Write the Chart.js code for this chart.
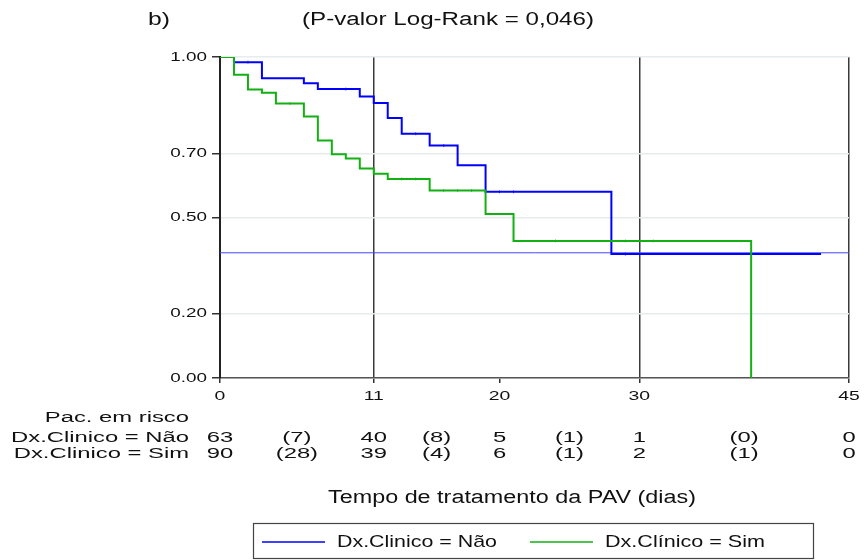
<!DOCTYPE html>
<html>
<head>
<meta charset="utf-8">
<script src="https://cdn.jsdelivr.net/npm/chart.js@4/dist/chart.umd.min.js"></script>
<style>
  html, body { margin: 0; padding: 0; background: #fff; }
  canvas { display: block; }
</style>
</head>
<body>
<canvas id="km" width="866" height="560"></canvas>
<script>
// Kaplan-Meier curves: tempo de tratamento da PAV, split by Dx.Clinico.

// ─── Data ────────────────────────────────────────────────────────────────────
const naoTimes = [0, 1, 3, 6, 7, 10, 11, 12, 13, 15, 17, 19, 28, 43];
const naoSurv  = [1, 0.984, 0.934, 0.918, 0.900, 0.877, 0.857, 0.810, 0.761, 0.724, 0.663, 0.580, 0.386, 0.386];
const simTimes = [0, 1, 2, 3, 4, 6, 7, 8, 9, 10, 11, 12, 15, 19, 21, 38];
const simSurv  = [1, 0.945, 0.899, 0.889, 0.855, 0.815, 0.740, 0.697, 0.684, 0.653, 0.636, 0.620, 0.584, 0.511, 0.427, 0];

const naoCensored = [2, 9, 14, 16, 20, 21, 29];
const simCensored = [5, 13, 14, 16, 17, 18, 24, 29, 31];

const refLevel   = 0.39;
const vlineDays  = [11, 30, 45];
const xTicks     = [0, 11, 20, 30, 45];
const yTicks     = [0, 0.2, 0.5, 0.7, 1.0];

const riskTimes  = [0, 5.5, 11, 15.5, 20, 25, 30, 37.5, 45];
const riskNao    = ["63", "(7)", "40", "(8)", "5", "(1)", "1", "(0)", "0"];
const riskSim    = ["90", "(28)", "39", "(4)", "6", "(1)", "2", "(1)", "0"];

const labelNao   = "Dx.Clinico = Não";
const labelSim   = "Dx.Clinico = Sim";
const legendNao  = "Dx.Clinico = Não";
const legendSim  = "Dx.Clínico = Sim";

const BLUE  = "#0000ff";
const GREEN = "#12b012";
const FONT  = '"Liberation Sans", Arial, sans-serif';

// ─── Helpers ─────────────────────────────────────────────────────────────────

const toPts = (xs, ys) => xs.map((x, i) => ({ x, y: ys[i] }));

function survivalAt(times, surv, t) {
  let s = surv[0];
  for (let i = 0; i < times.length; i++) if (times[i] <= t) s = surv[i];
  return s;
}

function censorPts(cens, times, surv) {
  return cens.map((t) => ({ x: t, y: survivalAt(times, surv, t) }));
}

// draw text stretched horizontally (sx), or fitted to a given width
function text(ctx, str, x, y, align, size, sx, fitWidth) {
  ctx.save();
  ctx.font = size + "px " + FONT;
  ctx.fillStyle = "#111";
  ctx.textBaseline = "middle";
  ctx.textAlign = align;
  if (fitWidth) sx = fitWidth / ctx.measureText(str).width;
  ctx.translate(x, y);
  ctx.scale(sx, 1);
  ctx.fillText(str, 0, 0);
  ctx.restore();
}

// ─── Extra drawing: tick labels, risk table, titles, legend ─────────────────

const decorPlugin = {
  id: "kmDecor",
  afterDraw(chart) {
    const ctx = chart.ctx;
    const xs = chart.scales.x;
    const ys = chart.scales.y;

    yTicks.forEach((v) => text(ctx, v.toFixed(2), 207, ys.getPixelForValue(v), "right", 13, 1.45));
    xTicks.forEach((v) => text(ctx, String(v), xs.getPixelForValue(v), 397, "center", 12.5, 1.55));

    // patients at risk
    text(ctx, "Pac. em risco", 189, 418, "right", 14, 1.7);
    text(ctx, labelNao, 189, 438, "right", 14, 1.7);
    text(ctx, labelSim, 189, 454, "right", 14, 1.7);
    riskTimes.forEach((t, i) => {
      const px = xs.getPixelForValue(t);
      text(ctx, riskNao[i], px, 438, "center", 14, 1.7);
      text(ctx, riskSim[i], px, 454, "center", 14, 1.7);
    });

    // titles
    text(ctx, "b)", 148, 20, "left", 18, 1, 22);
    text(ctx, "(P-valor Log-Rank = 0,046)", 302, 20, "left", 18, 1, 292);
    text(ctx, "Tempo de tratamento da PAV (dias)", 328, 498, "left", 18, 1, 368);

    // legend box
    ctx.save();
    ctx.strokeStyle = "#444";
    ctx.lineWidth = 1.2;
    ctx.strokeRect(253.5, 523.5, 560, 35);
    ctx.lineWidth = 1.5;
    ctx.strokeStyle = BLUE;
    ctx.beginPath(); ctx.moveTo(262, 542); ctx.lineTo(325, 542); ctx.stroke();
    ctx.strokeStyle = GREEN;
    ctx.beginPath(); ctx.moveTo(530, 542); ctx.lineTo(593, 542); ctx.stroke();
    ctx.restore();
    text(ctx, legendNao, 337, 542, "left", 17, 1, 160);
    text(ctx, legendSim, 605, 542, "left", 17, 1, 160);
  },
};

// ─── Chart ───────────────────────────────────────────────────────────────────

new Chart(document.getElementById("km"), {
  type: "line",
  data: {
    datasets: [
      {
        data: toPts(simTimes, simSurv),
        borderColor: GREEN, borderWidth: 2, stepped: "before",
        pointRadius: 0, fill: false, order: 1,
      },
      {
        data: censorPts(simCensored, simTimes, simSurv),
        showLine: false, pointStyle: "line", rotation: 90, pointRadius: 1.5,
        borderColor: "rgba(18,176,18,0.7)", borderWidth: 1, order: 1,
      },
      {
        data: toPts(naoTimes, naoSurv),
        borderColor: BLUE, borderWidth: 2, stepped: "before",
        pointRadius: 0, fill: false, order: 2,
      },
      {
        data: censorPts(naoCensored, naoTimes, naoSurv),
        showLine: false, pointStyle: "line", rotation: 90, pointRadius: 1.5,
        borderColor: "rgba(0,0,255,0.7)", borderWidth: 1, order: 2,
      },
      {
        data: [{ x: 0, y: refLevel }, { x: 45, y: refLevel }],
        borderColor: "#4646ff", borderWidth: 1, pointRadius: 0, order: 3,
      },
    ],
  },
  options: {
    responsive: false,
    animation: false,
    layout: { padding: { left: 0, top: 57, right: 17, bottom: 0 } },
    plugins: { legend: { display: false }, tooltip: { enabled: false } },
    scales: {
      x: {
        type: "linear", min: 0, max: 45,
        afterBuildTicks: (s) => { s.ticks = xTicks.map((v) => ({ value: v })); },
        afterFit: (s) => { s.height = 560 - 378; },
        ticks: { color: "rgba(0,0,0,0)", autoSkip: false, maxRotation: 0, font: { size: 12 } },
        grid: {
          color: (c) => (c.tick && vlineDays.includes(c.tick.value) ? "#3a3a3a" : "rgba(0,0,0,0)"),
          lineWidth: 1.5, tickColor: "#333", tickLength: 5,
        },
        border: { color: "#555", width: 1.5 },
      },
      y: {
        min: 0, max: 1,
        afterBuildTicks: (s) => { s.ticks = yTicks.map((v) => ({ value: v })); },
        afterFit: (s) => { s.width = 220; },
        ticks: { color: "rgba(0,0,0,0)", font: { size: 12 } },
        grid: { color: "#e6ecec", lineWidth: 1.5, tickColor: "#333", tickLength: 8 },
        border: { color: "#222", width: 2 },
      },
    },
  },
  plugins: [decorPlugin],
});
</script>
</body>
</html>
